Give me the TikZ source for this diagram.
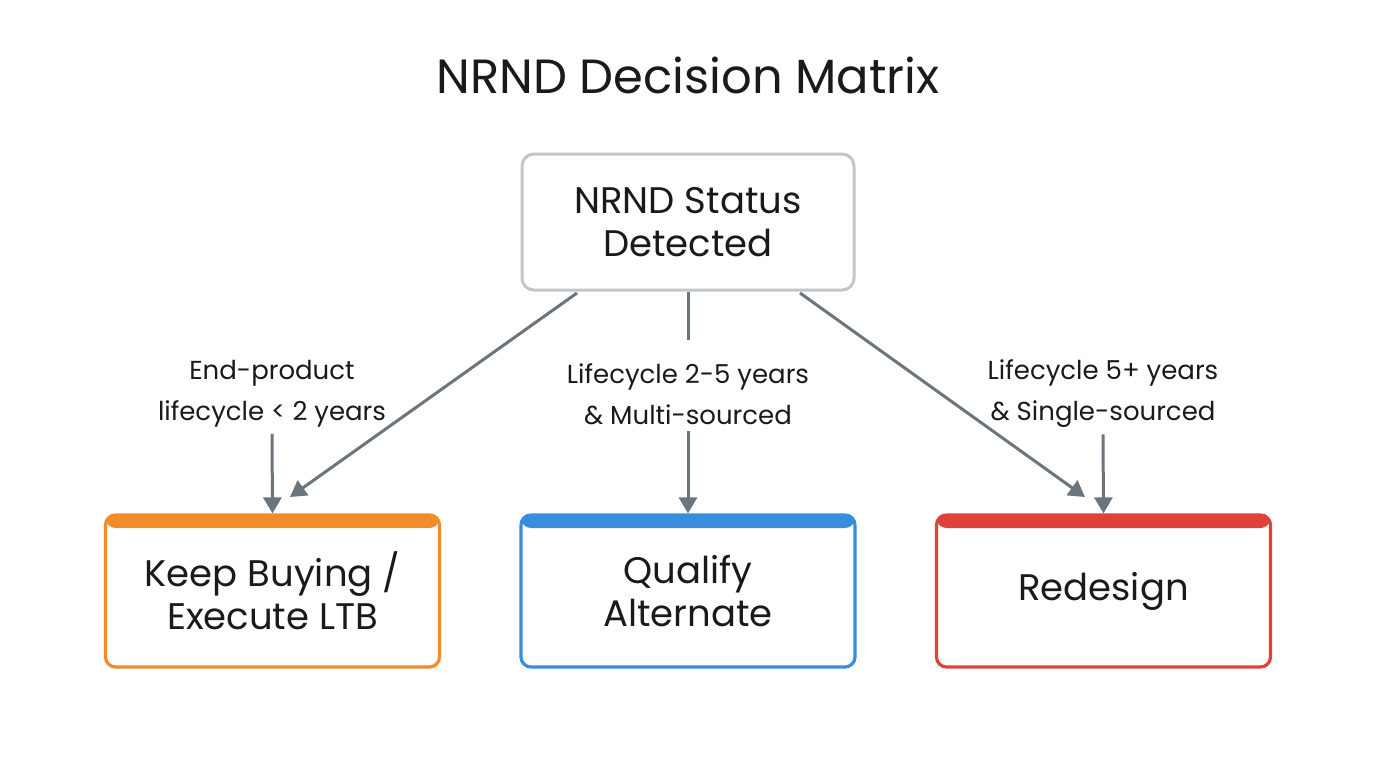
\documentclass[tikz,border=0pt]{standalone}
\usepackage{fontspec}
\setmainfont{Poppins}
\usetikzlibrary{arrows.meta}
\definecolor{corange}{HTML}{F28C28}
\definecolor{cblue}{HTML}{3A8DDE}
\definecolor{cred}{HTML}{E0413A}
\definecolor{carrow}{HTML}{6B7580}
\definecolor{cgray}{HTML}{C2C6CA}
\definecolor{ctext}{HTML}{1A1A1A}
\tikzset{
  px/.style={x=0.5pt,y=-0.5pt},
  outcome/.style={draw=#1, line width=1.6pt, rounded corners=5pt, fill=white,
    minimum width=167pt, minimum height=76pt, align=center, font=\fontsize{18.5}{21.5}\selectfont, text=ctext,
    path picture={\fill[#1] (path picture bounding box.north west) rectangle ([yshift=-6.5pt]path picture bounding box.north east);}},
  startbox/.style={draw=cgray, line width=1.5pt, rounded corners=6pt, fill=white,
    minimum width=166pt, minimum height=68pt, align=center, font=\fontsize{18.5}{21.5}\selectfont, text=ctext},
  cond/.style={align=center, font=\fontsize{13}{20.5}\selectfont, text=ctext, inner sep=1pt},
  conn/.style={draw=carrow, line width=1.5pt, -{Triangle[length=8pt,width=9pt]}},
  plain/.style={draw=carrow, line width=1.5pt}
}
\begin{document}
\begin{tikzpicture}[px]
\useasboundingbox[fill=white] (0,0) rectangle (1376,768);
\node[font=\fontsize{24}{28}\selectfont, text=ctext] (title) at (688,75) {NRND Decision Matrix};
\node[startbox] (top) at (688,222) {NRND Status\\Detected};
\node[outcome=corange] (b1) at (272.5,591) {Keep Buying /\\Execute LTB};
\node[outcome=cblue] (b2) at (688,591) {Qualify\\Alternate};
\node[outcome=cred] (b3) at (1103.5,591) {Redesign};
\node[cond] (l1) at (272,394) {End-product\\lifecycle < 2 years};
\node[cond] (l2) at (688,394) {Lifecycle 2-5 years\\\& Multi-sourced};
\node[cond] (l3) at (1103,394) {Lifecycle 5+ years\\\& Single-sourced};
\coordinate (s1) at (577,293);
\coordinate (e1) at (290,497);
\coordinate (s3) at (800,293);
\coordinate (e3) at (1085,497);
\coordinate (m1) at (688,340);
\draw[conn] (s1) -- (e1);
\draw[conn] (s3) -- (e3);
\draw[plain] (top.south) -- (m1);
\draw[conn] (l2.south) ++(0,4) -- (b2.north);
\draw[conn] (l1.south) ++(0,4) -- (b1.north);
\draw[conn] (l3.south) ++(0,4) -- (b3.north);
\end{tikzpicture}
\end{document}
